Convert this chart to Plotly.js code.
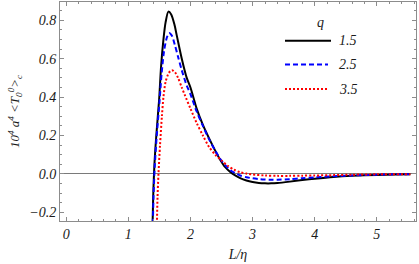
<!DOCTYPE html>
<html>
<head>
<meta charset="utf-8">
<script src="https://cdn.plot.ly/plotly-3.0.1.min.js"></script>
<style>html,body{margin:0;padding:0;background:#fff;}#chart{width:419px;height:264px;}</style>
</head>
<body>
<div id="chart"></div>
<script>
// q = 1.5
const x15 = [1.39,1.40,1.42,1.45,1.495,1.527,1.565,1.60,1.645,1.69,1.74,1.78,1.86,1.94,2.0,2.1,2.2,2.3,2.4,2.48,2.56,2.64,2.72,2.8,2.9,3.0,3.1,3.2,3.3,3.4,3.6,3.8,4.0,4.3,4.6,5.0,5.3,5.54];
const y15 = [-0.26,-0.12,0.05,0.20,0.385,0.56,0.70,0.79,0.845,0.83,0.78,0.72,0.60,0.50,0.45,0.34,0.255,0.185,0.12,0.073,0.035,0.010,-0.008,-0.022,-0.034,-0.042,-0.047,-0.049,-0.049,-0.047,-0.040,-0.032,-0.025,-0.016,-0.010,-0.005,-0.003,-0.002];
// q = 2.5
const x25 = [1.395,1.405,1.425,1.455,1.50,1.535,1.575,1.62,1.656,1.70,1.75,1.80,1.86,1.94,2.0,2.1,2.2,2.3,2.4,2.48,2.56,2.64,2.72,2.8,2.9,3.0,3.1,3.2,3.3,3.4,3.6,3.8,4.0,4.3,4.6,5.0,5.3,5.54];
const y25 = [-0.26,-0.12,0.04,0.19,0.37,0.52,0.64,0.71,0.733,0.72,0.67,0.61,0.54,0.46,0.415,0.325,0.25,0.18,0.12,0.078,0.045,0.02,0.004,-0.008,-0.017,-0.023,-0.027,-0.029,-0.030,-0.030,-0.027,-0.022,-0.018,-0.012,-0.008,-0.004,-0.002,-0.001];
// q = 3.5
const x35 = [1.46,1.47,1.485,1.51,1.54,1.565,1.60,1.65,1.70,1.75,1.80,1.86,1.91,2.0,2.1,2.2,2.3,2.4,2.5,2.6,2.7,2.8,2.9,3.0,3.2,3.4,3.6,3.8,4.0,4.3,4.6,5.0,5.54];
const y35 = [-0.26,-0.12,0.0,0.15,0.30,0.40,0.48,0.525,0.54,0.53,0.50,0.45,0.41,0.34,0.265,0.20,0.14,0.10,0.07,0.042,0.022,0.009,0.002,-0.003,-0.008,-0.010,-0.010,-0.009,-0.008,-0.006,-0.004,-0.002,-0.001];

const qLabels = ['1.5','2.5','3.5'];
const xTicks = [0,1,2,3,4,5];
const yTicks = [-0.2,0.0,0.2,0.4,0.6,0.8];

const W = 419, H = 264;
const L = 60, R = 3, T = 2, B = 43;
const pw = W - L - R, ph = H - T - B;
const px = v => (v - L) / pw;
const py = v => (H - B - v) / ph;

const serif = '"Liberation Serif", serif';
const txt = '#1a1a1a';
const axc = '#8c8c8c';
const colors = ['#000000','#0000ff','#ff0000'];
const dashes = ['solid','5px,3px','2px,2px'];

const traces = [[x15,y15],[x25,y25],[x35,y35]].map((d,i)=>({
  x: d[0], y: d[1], type:'scatter', mode:'lines',
  line:{color:colors[i], width:2, dash:dashes[i], shape:'spline', smoothing:0.8},
  showlegend:false, hoverinfo:'skip', cliponaxis:true
}));

const axisCommon = {
  showgrid:false, showline:true, linecolor:axc, linewidth:1, mirror:'ticks',
  ticks:'inside', ticklen:4, tickcolor:axc, tickwidth:1,
  tickfont:{family:serif, size:14, color:txt, style:'italic'},
};

const shapes = [], annotations = [];
const legY = [40.7, 64.5, 89];
const legX1 = [331, 328, 328];
for (let i=0;i<3;i++){
  shapes.push({type:'line', xref:'paper', yref:'paper', x0:px(285), x1:px(legX1[i]), y0:py(legY[i]), y1:py(legY[i]),
    line:{color:colors[i], width:2, dash:dashes[i]}});
  annotations.push({xref:'paper', yref:'paper', x:px(337), y:py(legY[i]), xanchor:'left', yanchor:'middle',
    text:qLabels[i], showarrow:false, font:{family:serif, size:14, color:txt, style:'italic'}});
}
annotations.push({xref:'paper', yref:'paper', x:px(320), y:py(22), xanchor:'center', yanchor:'middle',
  text:'q', showarrow:false, font:{family:serif, size:14, color:txt, style:'italic'}});

const layout = {
  width:W, height:H,
  margin:{l:L, r:R, t:T, b:B, pad:0},
  paper_bgcolor:'#fff', plot_bgcolor:'#fff',
  showlegend:false,
  xaxis: Object.assign({}, axisCommon, {
    range:[-0.1, 5.63], tickvals:xTicks, ticktext:xTicks.map(String),
    zeroline:false,
    minor:{dtick:0.2, ticks:'inside', ticklen:2, tickcolor:axc, showgrid:false},
    title:{text:'L/η', font:{family:serif, size:14, color:txt, style:'italic'}, standoff:8}
  }),
  yaxis: Object.assign({}, axisCommon, {
    range:[-0.245, 0.895], tickvals:yTicks, ticktext:yTicks.map(v=>v.toFixed(1).replace('-','−')),
    zeroline:true, zerolinecolor:'#7a7a7a', zerolinewidth:1,
    minor:{dtick:0.05, ticks:'inside', ticklen:2, tickcolor:axc, showgrid:false},
    title:{text:'10<sup>4</sup> a<sup>4</sup> <T<sub>0</sub><sup>0</sup>><sub>c</sub>', font:{family:serif, size:13, color:txt, style:'italic'}, standoff:6}
  }),
  shapes:shapes, annotations:annotations
};

Plotly.newPlot('chart', traces, layout, {staticPlot:true, displayModeBar:false});
</script>
</body>
</html>
